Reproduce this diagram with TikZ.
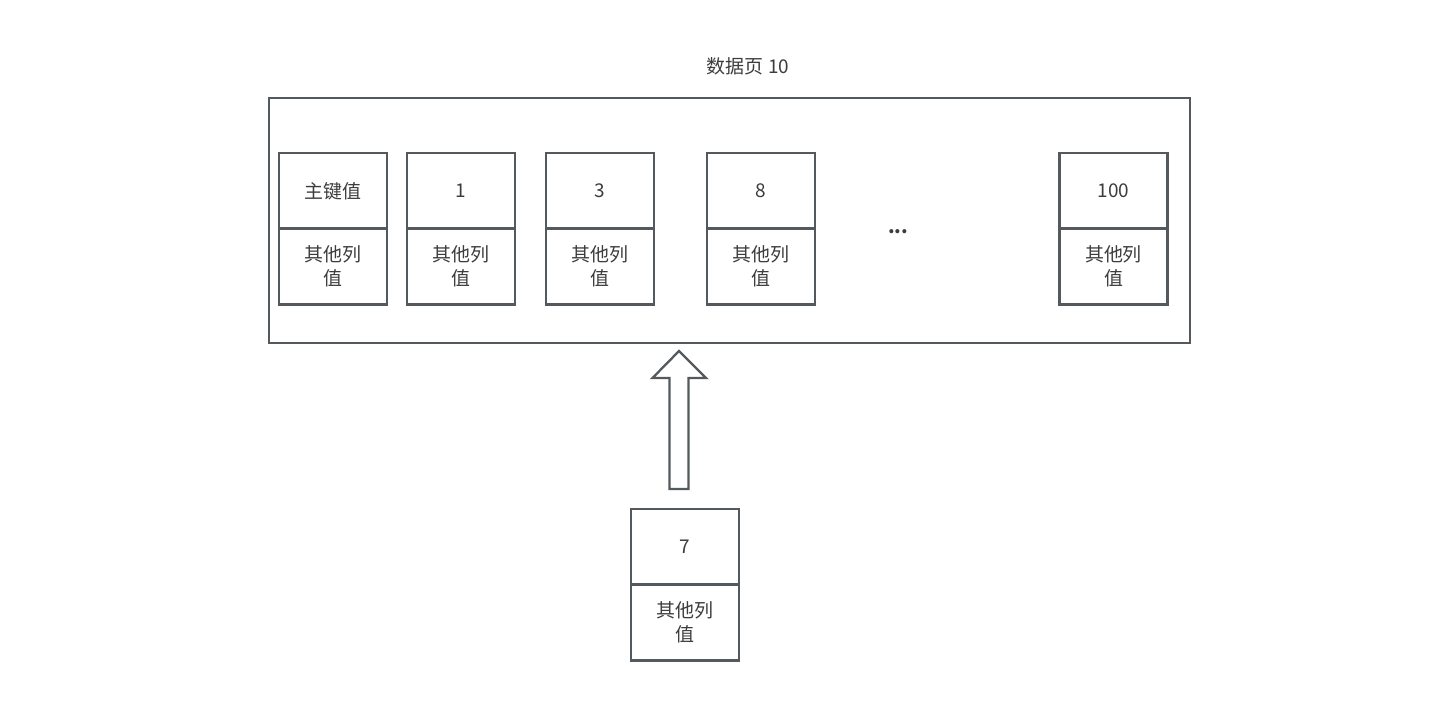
\documentclass[tikz,border=0pt]{standalone}
\usepackage{fontspec}
\newfontfamily\cjk{Noto Sans CJK SC}
\usetikzlibrary{calc}
\definecolor{lineclr}{RGB}{84, 89, 94}
\definecolor{txtclr}{RGB}{60, 60, 60}
\tikzset{
  % 数据页外框
  pagebox/.style   = {draw=lineclr, line width=1.3pt, inner sep=0pt, outer sep=0pt},
  % 记录格子
  keycell/.style   = {draw=lineclr, line width=1.3pt, minimum width=2.16cm,
                      minimum height=1.52cm, inner sep=0pt, outer sep=0pt,
                      text=txtclr, font=\cjk\fontsize{10.8}{13.6}\selectfont},
  valcell/.style   = {keycell, align=center},
  % 标签
  lab/.style       = {text=txtclr, font=\cjk\fontsize{10.8}{13.6}\selectfont},
  % 空心箭头
  blockarrow/.style= {draw=lineclr, line width=1.3pt, fill=white, line join=miter},
}
\begin{document}
\begin{tikzpicture}[x=0.02cm, y=-0.02cm]
  \useasboundingbox (0,0) rectangle (1454,716);
  % 数据页
  \node[pagebox, minimum width=18.42cm, minimum height=4.9cm] (page) at (729.5,220.5) {};
  \node[lab] (title) at (748,66) {数据页 10};
  % 页内记录
  \foreach \n/\x/\lab in {0/333/主键值, 1/461/1, 2/600/3, 3/761/8, 4/1113.5/100}{
    \node[keycell] (k\n) at (\x,191) {\raisebox{-1.5pt}{\lab}};
    \node[valcell] (v\n) at (\x,266.5) {其他列\\值};
  }
  \node[lab, anchor=base] (dots) at (898,234) {\textbf{...}};
  % 待插入记录
  \node[keycell] (k5) at (685,547) {\raisebox{-1.5pt}{7}};
  \node[valcell] (v5) at (685,622.5) {其他列\\值};
  % 插入箭头
  \coordinate (atip) at (679,351);
  \coordinate (abase) at (679,489);
  \draw[blockarrow] (abase) ++(-9.5,0) -- ++(0,-111) -- ++(-17,0) -- (atip)
    -- ++(27,27) -- ++(-17.5,0) -- ++(0,111) -- cycle;
\end{tikzpicture}
\end{document}
